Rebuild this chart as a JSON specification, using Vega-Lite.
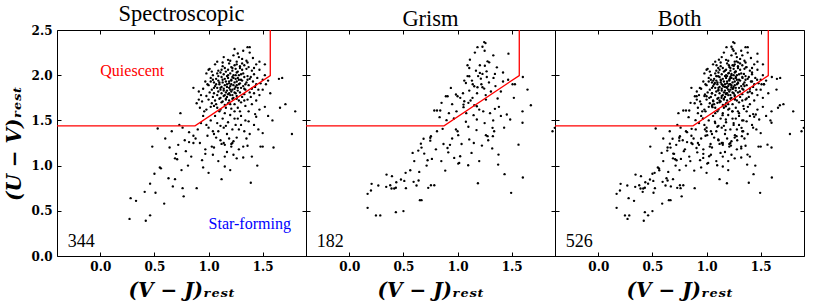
{
"$schema": "https://vega.github.io/schema/vega-lite/v6.json",
"background": "white",
"padding": {"left": 3, "top": 2, "right": 10, "bottom": 3},
"spacing": 0,
"bounds": "flush",
"datasets": {
"spec": [
{"x":1.24,"y":2.29},{"x":1.32,"y":2.27},{"x":1.36,"y":2.31},{"x":1.38,"y":2.31},{"x":1.38,"y":2.25},{"x":1.14,"y":2.2},{"x":1.35,"y":2.16},{"x":1.36,"y":2.14},{"x":1.47,"y":2.15},{"x":1.23,"y":2.22},{"x":1.28,"y":2.2},{"x":1.31,"y":2.18},{"x":1.18,"y":2.17},{"x":1.41,"y":2.19},{"x":1.26,"y":2.15},{"x":1.08,"y":2.15},{"x":1.52,"y":2.12},
{"x":1.06,"y":2.12},{"x":1.13,"y":2.10},{"x":1.19,"y":2.13},{"x":1.21,"y":2.09},{"x":1.24,"y":2.11},{"x":1.26,"y":2.12},{"x":1.29,"y":2.10},{"x":1.33,"y":2.11},{"x":1.37,"y":2.09},{"x":1.44,"y":2.12},
{"x":1.01,"y":2.07},{"x":1.09,"y":2.05},{"x":1.15,"y":2.08},{"x":1.18,"y":2.06},{"x":1.22,"y":2.05},{"x":1.25,"y":2.07},{"x":1.27,"y":2.04},{"x":1.31,"y":2.06},{"x":1.35,"y":2.07},{"x":1.40,"y":2.05},{"x":1.47,"y":2.06},
{"x":0.98,"y":2.02},{"x":1.04,"y":2.00},{"x":1.11,"y":2.03},{"x":1.14,"y":2.01},{"x":1.17,"y":1.99},{"x":1.20,"y":2.02},{"x":1.23,"y":2.00},{"x":1.26,"y":2.03},{"x":1.28,"y":2.00},{"x":1.32,"y":2.02},{"x":1.36,"y":1.99},{"x":1.42,"y":2.01},{"x":1.52,"y":2.00},
{"x":1.02,"y":1.97},{"x":1.07,"y":1.96},{"x":1.12,"y":1.98},{"x":1.15,"y":1.96},{"x":1.18,"y":1.97},{"x":1.21,"y":1.95},{"x":1.22,"y":1.98},{"x":1.25,"y":1.96},{"x":1.27,"y":1.97},{"x":1.30,"y":1.95},{"x":1.33,"y":1.98},{"x":1.38,"y":1.96},{"x":1.45,"y":1.97},{"x":1.50,"y":1.95},
{"x":0.97,"y":1.93},{"x":1.05,"y":1.92},{"x":1.09,"y":1.94},{"x":1.13,"y":1.92},{"x":1.16,"y":1.93},{"x":1.19,"y":1.91},{"x":1.21,"y":1.94},{"x":1.24,"y":1.92},{"x":1.26,"y":1.93},{"x":1.29,"y":1.91},{"x":1.31,"y":1.94},{"x":1.35,"y":1.92},{"x":1.41,"y":1.93},{"x":1.48,"y":1.91},
{"x":1.00,"y":1.89},{"x":1.06,"y":1.88},{"x":1.10,"y":1.90},{"x":1.12,"y":1.87},{"x":1.15,"y":1.89},{"x":1.17,"y":1.90},{"x":1.20,"y":1.88},{"x":1.23,"y":1.89},{"x":1.25,"y":1.87},{"x":1.28,"y":1.90},{"x":1.32,"y":1.88},{"x":1.37,"y":1.89},{"x":1.43,"y":1.87},
{"x":0.95,"y":1.85},{"x":1.03,"y":1.84},{"x":1.08,"y":1.86},{"x":1.11,"y":1.84},{"x":1.14,"y":1.85},{"x":1.17,"y":1.83},{"x":1.19,"y":1.86},{"x":1.22,"y":1.84},{"x":1.24,"y":1.85},{"x":1.27,"y":1.83},{"x":1.30,"y":1.86},{"x":1.34,"y":1.84},{"x":1.40,"y":1.85},{"x":1.46,"y":1.84},
{"x":1.01,"y":1.81},{"x":1.05,"y":1.80},{"x":1.09,"y":1.82},{"x":1.12,"y":1.80},{"x":1.16,"y":1.81},{"x":1.18,"y":1.79},{"x":1.21,"y":1.82},{"x":1.25,"y":1.80},{"x":1.29,"y":1.81},{"x":1.33,"y":1.79},{"x":1.38,"y":1.81},
{"x":0.98,"y":1.77},{"x":1.04,"y":1.76},{"x":1.08,"y":1.78},{"x":1.11,"y":1.75},{"x":1.14,"y":1.77},{"x":1.17,"y":1.76},{"x":1.20,"y":1.78},{"x":1.23,"y":1.75},{"x":1.26,"y":1.77},{"x":1.31,"y":1.76},
{"x":1.00,"y":1.73},{"x":1.06,"y":1.72},{"x":1.10,"y":1.74},{"x":1.13,"y":1.71},{"x":1.16,"y":1.73},{"x":1.19,"y":1.72},{"x":1.22,"y":1.74},{"x":1.28,"y":1.72},{"x":1.36,"y":1.73},
{"x":1.03,"y":1.69},{"x":1.07,"y":1.68},{"x":1.12,"y":1.70},{"x":1.15,"y":1.67},{"x":1.18,"y":1.69},{"x":1.24,"y":1.68},
{"x":1.02,"y":1.65},{"x":1.08,"y":1.64},{"x":1.11,"y":1.62},{"x":1.16,"y":1.64},{"x":1.21,"y":1.63},
{"x":1.13,"y":1.95},{"x":1.19,"y":1.93},{"x":1.23,"y":1.97},{"x":1.17,"y":1.87},{"x":1.21,"y":1.90},{"x":1.26,"y":1.89},{"x":1.14,"y":1.83},{"x":1.20,"y":1.84},{"x":1.24,"y":1.81},{"x":1.10,"y":1.92},{"x":1.28,"y":1.95},{"x":1.16,"y":2.04},{"x":1.22,"y":2.08},{"x":1.30,"y":2.01},{"x":1.11,"y":1.86},{"x":1.19,"y":1.80},{"x":1.25,"y":2.00},{"x":1.18,"y":2.00},{"x":1.27,"y":1.86},{"x":1.15,"y":1.78},{"x":1.34,"y":1.90},{"x":1.09,"y":1.99},{"x":1.29,"y":2.08},{"x":1.12,"y":2.06},{"x":1.07,"y":1.90},{"x":1.33,"y":1.85},{"x":1.22,"y":1.78},{"x":1.39,"y":1.98},{"x":1.05,"y":1.86},{"x":1.31,"y":2.13},{"x":1.20,"y":2.16},{"x":1.42,"y":2.08},{"x":1.08,"y":2.02},{"x":1.36,"y":1.95},{"x":1.16,"y":1.74},{"x":1.26,"y":1.74},{"x":1.04,"y":1.95},{"x":1.44,"y":1.90},{"x":1.13,"y":2.14},{"x":1.27,"y":2.24},
{"x":0.91,"y":1.82},{"x":0.93,"y":1.78},{"x":0.91,"y":1.73},{"x":0.94,"y":1.71},{"x":0.92,"y":1.64},{"x":0.96,"y":1.60},{"x":0.98,"y":1.62},{"x":1.00,"y":2.06},{"x":1.03,"y":2.04},{"x":1.02,"y":1.93},{"x":0.99,"y":1.90},{"x":0.89,"y":1.69},{"x":0.95,"y":1.55},{"x":0.86,"y":1.86},
{"x":1.65,"y":1.96},{"x":1.68,"y":1.97},{"x":1.66,"y":1.64},{"x":1.71,"y":1.68},{"x":1.59,"y":1.50},{"x":1.77,"y":1.35},{"x":1.50,"y":1.36},{"x":1.44,"y":1.54},{"x":1.53,"y":1.90},{"x":1.55,"y":1.94},
{"x":0.93,"y":1.47},{"x":1.11,"y":1.44},{"x":1.16,"y":1.44},{"x":1.04,"y":1.38},{"x":1.05,"y":1.35},{"x":1.07,"y":1.31},{"x":1.11,"y":1.28},{"x":1.14,"y":1.25},{"x":1.26,"y":1.31},{"x":1.22,"y":1.25},{"x":1.27,"y":1.52},{"x":1.24,"y":1.52},{"x":1.20,"y":1.56},{"x":1.27,"y":1.64},{"x":1.24,"y":1.60},{"x":1.29,"y":1.60},{"x":1.37,"y":1.60},{"x":1.37,"y":1.49},{"x":1.43,"y":1.57},{"x":1.44,"y":1.72},{"x":1.30,"y":1.70},{"x":1.34,"y":1.66},{"x":1.40,"y":1.68},{"x":1.47,"y":1.78},{"x":1.42,"y":1.80},{"x":1.50,"y":1.84},
{"x":0.97,"y":1.18},{"x":0.97,"y":1.13},{"x":1.03,"y":1.21},{"x":1.05,"y":1.20},{"x":1.12,"y":1.24},{"x":1.15,"y":1.23},{"x":1.15,"y":1.10},{"x":1.17,"y":1.15},{"x":1.15,"y":0.99},{"x":1.12,"y":0.85},{"x":1.21,"y":1.21},{"x":1.21,"y":1.24},{"x":1.23,"y":1.27},{"x":1.32,"y":1.21},{"x":1.32,"y":1.09},{"x":1.39,"y":0.81},{"x":1.48,"y":1.21},{"x":1.50,"y":1.21},{"x":0.95,"y":0.98},{"x":0.89,"y":0.75},
{"x":1.00,"y":1.42},{"x":1.08,"y":1.47},{"x":1.13,"y":1.52},{"x":1.18,"y":1.48},{"x":1.22,"y":1.40},{"x":1.30,"y":1.45},{"x":1.33,"y":1.38},{"x":1.17,"y":1.35},{"x":1.28,"y":1.18},{"x":1.35,"y":1.30},{"x":1.42,"y":1.45},{"x":1.46,"y":1.40},{"x":1.55,"y":1.55},{"x":1.52,"y":1.65},{"x":1.10,"y":1.60},{"x":1.15,"y":1.58},{"x":1.06,"y":1.55},{"x":1.02,"y":1.50},{"x":0.98,"y":1.45},{"x":1.25,"y":1.45},{"x":1.36,"y":1.22},{"x":1.40,"y":1.10},{"x":1.09,"y":1.05},{"x":1.26,"y":1.08},{"x":1.20,"y":0.95},{"x":1.45,"y":1.00},{"x":1.60,"y":1.20},{"x":1.80,"y":1.60},{"x":1.30,"y":1.55},
{"x":0.48,"y":1.21},{"x":0.72,"y":1.23},{"x":0.82,"y":1.26},{"x":0.86,"y":1.25},{"x":0.70,"y":1.13},{"x":0.69,"y":1.08},{"x":0.71,"y":1.07},{"x":0.79,"y":1.16},{"x":0.81,"y":1.00},{"x":0.55,"y":0.98},{"x":0.56,"y":0.97},{"x":0.50,"y":0.91},{"x":0.46,"y":0.80},{"x":0.41,"y":0.71},{"x":0.51,"y":0.70},{"x":0.28,"y":0.64},{"x":0.33,"y":0.61},{"x":0.59,"y":0.58},{"x":0.63,"y":0.86},{"x":0.69,"y":0.85},{"x":0.67,"y":0.77},{"x":0.76,"y":0.75},{"x":0.77,"y":0.66},{"x":0.27,"y":0.41},{"x":0.42,"y":0.39},{"x":0.46,"y":0.45},{"x":0.74,"y":1.58},{"x":0.73,"y":1.45},{"x":0.66,"y":1.38},{"x":0.53,"y":1.41},{"x":0.82,"y":1.37},{"x":0.78,"y":1.28},{"x":0.86,"y":1.33},{"x":0.90,"y":1.40},{"x":0.60,"y":1.30},{"x":0.84,"y":1.10},
{"x":0.92,"y":1.25},{"x":0.99,"y":1.33},{"x":1.04,"y":1.12},{"x":1.19,"y":1.30},{"x":1.28,"y":1.40},{"x":1.38,"y":1.35},{"x":1.34,"y":1.50},{"x":1.47,"y":1.62},{"x":1.09,"y":1.38},{"x":1.14,"y":1.42},{"x":0.88,"y":1.30},{"x":0.76,"y":1.42},{"x":0.64,"y":1.20},{"x":0.94,"y":1.06},{"x":1.00,"y":0.92},{"x":0.75,"y":0.95},{"x":1.23,"y":1.12},{"x":1.05,"y":1.66},{"x":1.20,"y":1.68},{"x":1.39,"y":1.76},{"x":1.33,"y":1.72},{"x":1.57,"y":1.80}
],
"grism": [
{"x":1.246,"y":2.366},{"x":1.258,"y":2.355},{"x":1.23,"y":2.315},{"x":1.184,"y":2.31},{"x":1.25,"y":2.27},{"x":1.47,"y":2.238},{"x":1.114,"y":2.172},{"x":1.277,"y":2.153},{"x":1.292,"y":2.142},{"x":1.092,"y":2.11},{"x":1.108,"y":2.08},{"x":1.206,"y":2.11},{"x":1.252,"y":2.105},{"x":1.363,"y":2.087},{"x":1.206,"y":2.025},{"x":1.23,"y":2.014},{"x":1.268,"y":2.043},{"x":1.345,"y":2.014},{"x":1.332,"y":1.97},{"x":1.108,"y":1.988},{"x":1.092,"y":1.99},{"x":1.062,"y":1.94},{"x":1.133,"y":1.94},{"x":1.215,"y":1.962},{"x":1.077,"y":1.914},{"x":1.42,"y":1.93},{"x":1.467,"y":1.95},{"x":1.508,"y":1.9},{"x":1.53,"y":1.9},{"x":1.603,"y":1.98},{"x":0.938,"y":1.859},{"x":1.154,"y":1.878},{"x":1.184,"y":1.867},{"x":1.23,"y":1.867},{"x":1.246,"y":1.852},{"x":1.308,"y":1.82},{"x":1.108,"y":1.83},{"x":0.892,"y":1.767},{"x":0.908,"y":1.767},{"x":0.985,"y":1.786},{"x":1.0,"y":1.767},{"x":1.025,"y":1.75},{"x":1.138,"y":1.75},{"x":1.062,"y":1.712},{"x":0.852,"y":1.694},{"x":1.1,"y":1.694},{"x":1.055,"y":1.675},{"x":1.154,"y":1.668},{"x":1.178,"y":1.657},{"x":1.262,"y":1.73},{"x":1.37,"y":1.742},{"x":0.785,"y":1.61},{"x":0.81,"y":1.61},{"x":0.84,"y":1.61},{"x":0.99,"y":1.6},{"x":1.055,"y":1.646},{"x":1.237,"y":1.6},{"x":1.345,"y":1.628},{"x":1.382,"y":1.65},{"x":0.834,"y":1.536},{"x":0.966,"y":1.521},{"x":1.148,"y":1.558},{"x":1.455,"y":1.565},{"x":1.677,"y":1.668},{"x":1.646,"y":1.841},{"x":0.898,"y":1.503},{"x":1.077,"y":1.485},{"x":1.178,"y":1.51},{"x":1.329,"y":1.5},{"x":1.486,"y":1.51},{"x":1.6,"y":1.474},{"x":0.985,"y":1.4},{"x":1.0,"y":1.38},{"x":0.81,"y":1.38},{"x":0.862,"y":1.407},{"x":1.175,"y":1.393},{"x":1.323,"y":1.418},{"x":1.338,"y":1.38},{"x":1.006,"y":1.337},{"x":1.262,"y":1.337},{"x":1.277,"y":1.326},{"x":1.326,"y":1.326},{"x":1.108,"y":1.29},{"x":0.754,"y":1.326},{"x":0.748,"y":1.308},{"x":0.686,"y":1.297},{"x":1.877,"y":1.38},{"x":1.898,"y":1.418},
{"x":0.748,"y":1.276},{"x":0.87,"y":1.239},{"x":1.037,"y":1.239},{"x":1.225,"y":1.221},{"x":1.283,"y":1.28},{"x":1.563,"y":1.232},{"x":0.661,"y":1.243},{"x":0.667,"y":1.199},{"x":0.637,"y":1.166},{"x":0.585,"y":1.14},{"x":0.692,"y":1.133},{"x":0.763,"y":1.074},{"x":0.723,"y":1.059},{"x":0.714,"y":1.0},{"x":0.907,"y":1.195},{"x":0.914,"y":1.147},{"x":0.969,"y":1.085},{"x":1.024,"y":1.103},{"x":1.006,"y":1.022},{"x":1.015,"y":1.03},{"x":1.098,"y":1.004},{"x":1.129,"y":1.14},{"x":0.886,"y":0.945},{"x":0.563,"y":0.949},{"x":0.646,"y":0.93},{"x":1.378,"y":1.122},{"x":1.375,"y":1.011},{"x":1.434,"y":0.905},{"x":1.603,"y":0.868},{"x":1.188,"y":0.805},{"x":1.495,"y":0.699},{"x":0.344,"y":0.901},{"x":0.394,"y":0.883},{"x":0.434,"y":0.816},{"x":0.477,"y":0.846},{"x":0.508,"y":0.831},{"x":0.341,"y":0.765},{"x":0.378,"y":0.783},{"x":0.39,"y":0.747},{"x":0.415,"y":0.747},{"x":0.43,"y":0.755},{"x":0.523,"y":0.75},{"x":0.594,"y":0.82},{"x":0.621,"y":0.78},{"x":0.64,"y":0.835},{"x":0.729,"y":0.754},{"x":0.754,"y":0.783},{"x":0.785,"y":0.783},{"x":0.652,"y":0.618},{"x":0.667,"y":0.618},{"x":0.206,"y":0.798},{"x":0.2,"y":0.725},{"x":0.268,"y":0.78},{"x":0.169,"y":0.688},{"x":0.169,"y":0.533},{"x":0.246,"y":0.449},{"x":0.286,"y":0.449},{"x":0.43,"y":0.485},{"x":0.5,"y":0.497},
{"x":1.17,"y":2.05},{"x":1.19,"y":1.99},{"x":1.27,"y":1.98},{"x":1.29,"y":1.92},{"x":1.14,"y":1.90},{"x":1.22,"y":1.90},{"x":1.35,"y":1.88},{"x":1.05,"y":1.80},{"x":1.18,"y":1.80},{"x":1.26,"y":1.78},{"x":1.40,"y":1.82},{"x":1.12,"y":1.72},{"x":0.95,"y":1.68},{"x":1.20,"y":1.62},{"x":1.30,"y":1.58},{"x":1.08,"y":1.58},{"x":0.92,"y":1.58},{"x":1.40,"y":1.55},{"x":1.25,"y":1.47},{"x":1.10,"y":1.43},{"x":1.43,"y":1.42},{"x":0.95,"y":1.30},{"x":1.15,"y":1.25},{"x":0.80,"y":1.18},{"x":0.85,"y":1.05},{"x":1.20,"y":1.05},{"x":0.60,"y":1.05},{"x":0.93,"y":1.23},{"x":1.32,"y":1.19},{"x":0.52,"y":0.92},{"x":1.33,"y":2.22},{"x":1.16,"y":2.25},{"x":1.42,"y":2.03},{"x":1.52,"y":1.75},{"x":1.60,"y":1.60}
],
"cut": [{"i":0,"x":-0.4,"y":1.44},{"i":1,"x":0.875,"y":1.44},{"i":2,"x":1.57,"y":1.996},{"i":3,"x":1.57,"y":2.5}]
},
"config": {
"font": "Liberation Serif",
"view": {"stroke": "black", "strokeWidth": 1},
"axis": {"grid": false, "domain": false, "tickColor": "black", "tickSize": -4, "tickWidth": 1, "labelFont": "DejaVu Serif", "labelFontWeight": "bold", "labelFontSize": 12, "labelColor": "black", "titleFont": "DejaVu Serif", "titleFontWeight": "bold", "titleFontStyle": "italic", "titleFontSize": 20, "titleColor": "black"},
"title": {"font": "Liberation Serif", "fontSize": 22.5, "fontWeight": "normal", "color": "black", "offset": -1}
},
"hconcat": [
{
"width": 249, "height": 226,
"title": {"text": "Spectroscopic"},
"layer": [
{"data": {"name": "spec"}, "mark": {"type": "circle", "size": 5.5, "color": "black", "opacity": 1, "clip": true},
 "encoding": {
  "x": {"field": "x", "type": "quantitative", "scale": {"domain": [-0.4, 1.9], "nice": false, "zero": false}, "axis": {"orient": "bottom", "values": [0, 0.5, 1, 1.5], "format": ".1f", "title": "(V − J)ᵣₑₛₜ", "labelPadding": 9, "titlePadding": 8}},
  "y": {"field": "y", "type": "quantitative", "scale": {"domain": [0, 2.5], "nice": false, "zero": false}, "axis": {"orient": "left", "values": [0, 0.5, 1, 1.5, 2, 2.5], "format": ".1f", "title": "(U − V)ᵣₑₛₜ", "labelPadding": 9, "titlePadding": 7}}
 }},
{"data": {"name": "cut"}, "mark": {"type": "line", "color": "#ff0000", "strokeWidth": 1.3, "clip": true},
 "encoding": {
  "x": {"field": "x", "type": "quantitative", "scale": {"domain": [-0.4, 1.9], "nice": false, "zero": false}, "axis": {"orient": "top", "values": [0, 0.5, 1, 1.5], "labels": false, "title": null}},
  "y": {"field": "y", "type": "quantitative", "scale": {"domain": [0, 2.5], "nice": false, "zero": false}, "axis": {"orient": "right", "values": [0, 0.5, 1, 1.5, 2, 2.5], "labels": false, "title": null}},
  "order": {"field": "i", "type": "quantitative"}
 }},
{"data": {"values": [{"t": "Quiescent", "x": 0.0, "y": 2.05, "c": "q"}, {"t": "Star-forming", "x": 1.0, "y": 0.35, "c": "s"}]},
 "mark": {"type": "text", "align": "left", "baseline": "middle", "font": "Liberation Serif", "fontSize": 16},
 "encoding": {
  "x": {"field": "x", "type": "quantitative", "axis": null},
  "y": {"field": "y", "type": "quantitative", "axis": null},
  "text": {"field": "t"},
  "color": {"field": "c", "type": "nominal", "scale": {"domain": ["q", "s"], "range": ["#ff0000", "#0000ff"]}, "legend": null}
 }},
{"data": {"values": [{"t": "344", "x": -0.3, "y": 0.16}]},
 "mark": {"type": "text", "align": "left", "baseline": "middle", "font": "Liberation Serif", "fontSize": 18, "color": "black"},
 "encoding": {
  "x": {"field": "x", "type": "quantitative", "axis": null},
  "y": {"field": "y", "type": "quantitative", "axis": null},
  "text": {"field": "t"}
 }}
],
"resolve": {"axis": {"x": "independent", "y": "independent"}}
},
{
"width": 249, "height": 226,
"title": {"text": "Grism"},
"layer": [
{"data": {"name": "grism"}, "mark": {"type": "circle", "size": 5.5, "color": "black", "opacity": 1, "clip": true},
 "encoding": {
  "x": {"field": "x", "type": "quantitative", "scale": {"domain": [-0.4, 1.9], "nice": false, "zero": false}, "axis": {"orient": "bottom", "values": [0, 0.5, 1, 1.5], "format": ".1f", "title": "(V − J)ᵣₑₛₜ", "labelPadding": 9, "titlePadding": 8}},
  "y": {"field": "y", "type": "quantitative", "scale": {"domain": [0, 2.5], "nice": false, "zero": false}, "axis": {"orient": "left", "values": [0, 0.5, 1, 1.5, 2, 2.5], "labels": false, "title": null}}
 }},
{"data": {"name": "cut"}, "mark": {"type": "line", "color": "#ff0000", "strokeWidth": 1.3, "clip": true},
 "encoding": {
  "x": {"field": "x", "type": "quantitative", "scale": {"domain": [-0.4, 1.9], "nice": false, "zero": false}, "axis": {"orient": "top", "values": [0, 0.5, 1, 1.5], "labels": false, "title": null}},
  "y": {"field": "y", "type": "quantitative", "scale": {"domain": [0, 2.5], "nice": false, "zero": false}, "axis": {"orient": "right", "values": [0, 0.5, 1, 1.5, 2, 2.5], "labels": false, "title": null}},
  "order": {"field": "i", "type": "quantitative"}
 }},
{"data": {"values": [{"t": "182", "x": -0.3, "y": 0.16}]},
 "mark": {"type": "text", "align": "left", "baseline": "middle", "font": "Liberation Serif", "fontSize": 18, "color": "black"},
 "encoding": {
  "x": {"field": "x", "type": "quantitative", "axis": null},
  "y": {"field": "y", "type": "quantitative", "axis": null},
  "text": {"field": "t"}
 }}
],
"resolve": {"axis": {"x": "independent", "y": "independent"}}
},
{
"width": 249, "height": 226,
"title": {"text": "Both"},
"layer": [
{"data": {"name": "spec"}, "mark": {"type": "circle", "size": 5.5, "color": "black", "opacity": 1, "clip": true},
 "encoding": {
  "x": {"field": "x", "type": "quantitative", "scale": {"domain": [-0.4, 1.9], "nice": false, "zero": false}, "axis": {"orient": "bottom", "values": [0, 0.5, 1, 1.5], "format": ".1f", "title": "(V − J)ᵣₑₛₜ", "labelPadding": 9, "titlePadding": 8}},
  "y": {"field": "y", "type": "quantitative", "scale": {"domain": [0, 2.5], "nice": false, "zero": false}, "axis": {"orient": "left", "values": [0, 0.5, 1, 1.5, 2, 2.5], "labels": false, "title": null}}
 }},
{"data": {"name": "grism"}, "mark": {"type": "circle", "size": 5.5, "color": "black", "opacity": 1, "clip": true},
 "encoding": {
  "x": {"field": "x", "type": "quantitative", "scale": {"domain": [-0.4, 1.9], "nice": false, "zero": false}, "axis": null},
  "y": {"field": "y", "type": "quantitative", "scale": {"domain": [0, 2.5], "nice": false, "zero": false}, "axis": null}
 }},
{"data": {"name": "cut"}, "mark": {"type": "line", "color": "#ff0000", "strokeWidth": 1.3, "clip": true},
 "encoding": {
  "x": {"field": "x", "type": "quantitative", "scale": {"domain": [-0.4, 1.9], "nice": false, "zero": false}, "axis": {"orient": "top", "values": [0, 0.5, 1, 1.5], "labels": false, "title": null}},
  "y": {"field": "y", "type": "quantitative", "scale": {"domain": [0, 2.5], "nice": false, "zero": false}, "axis": {"orient": "right", "values": [0, 0.5, 1, 1.5, 2, 2.5], "labels": false, "title": null}},
  "order": {"field": "i", "type": "quantitative"}
 }},
{"data": {"values": [{"t": "526", "x": -0.3, "y": 0.16}]},
 "mark": {"type": "text", "align": "left", "baseline": "middle", "font": "Liberation Serif", "fontSize": 18, "color": "black"},
 "encoding": {
  "x": {"field": "x", "type": "quantitative", "axis": null},
  "y": {"field": "y", "type": "quantitative", "axis": null},
  "text": {"field": "t"}
 }}
],
"resolve": {"axis": {"x": "independent", "y": "independent"}}
}
]
}
